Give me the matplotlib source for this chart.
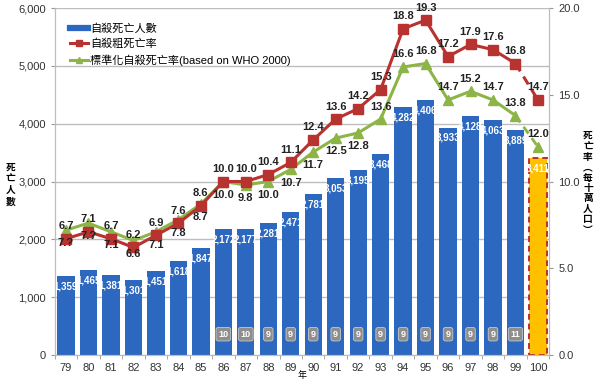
import matplotlib
matplotlib.use("Agg")
import matplotlib.pyplot as plt
from matplotlib.lines import Line2D
import numpy as np

plt.rcParams['font.family'] = ['Liberation Sans', 'Noto Sans CJK TC', 'DejaVu Sans']

# data
years = ['79', '80', '81', '82', '83', '84', '85', '86', '87', '88', '89',
         '90', '91', '92', '93', '94', '95', '96', '97', '98', '99', '100']
deaths = [1359, 1465, 1381, 1301, 1451, 1618, 1847, 2172, 2177, 2281, 2471,
          2781, 3053, 3195, 3468, 4282, 4406, 3933, 4128, 4063, 3889, 3411]
crude_rate = [6.7, 7.1, 6.7, 6.2, 6.9, 7.6, 8.6, 10.0, 10.0, 10.4, 11.1,
              12.4, 13.6, 14.2, 15.3, 18.8, 19.3, 17.2, 17.9, 17.6, 16.8, 14.7]
std_rate = [7.2, 7.6, 7.1, 6.6, 7.1, 7.8, 8.7, 10.0, 9.8, 10.0, 10.7,
            11.7, 12.5, 12.8, 13.6, 16.6, 16.8, 14.7, 15.2, 14.7, 13.8, 12.0]
std_labels = ['7.?', '7.?', '7.1', '6.6', '7.1', '7.8', '8.7', '10.0', '9.8', '10.0', '10.7',
              '11.7', '12.5', '12.8', '13.6', '16.6', '16.8', '14.7', '15.2', '14.7', '13.8', '12.0']
rank = [None, None, None, None, None, None, None, 10, 10, 9, 9,
        9, 9, 9, 9, 9, 9, 9, 9, 9, 11, None]

blue = '#2C68C0'
red = '#B8322F'
green = '#8CB447'
gold = '#FFC000'

x = np.arange(len(years))

fig = plt.figure(figsize=(6, 3.81), dpi=100)
ax = fig.add_axes([0.0913, 0.0682, 0.824, 0.9108])
ax2 = ax.twinx()

# bars
colors = [blue] * (len(years) - 1) + [gold]
bars = ax.bar(x, deaths, width=0.77, color=colors, zorder=2)
bars[-1].set_edgecolor(red)
bars[-1].set_linestyle((0, (3, 2)))
bars[-1].set_linewidth(1.4)

for xi, d in zip(x, deaths):
    ax.annotate(f"{d:,}", (xi, d), xytext=(0, -7.5), textcoords='offset points',
                ha='center', va='center', color='white', fontsize=7, fontweight='bold', zorder=3)

for xi, r in zip(x, rank):
    if r is not None:
        ax.text(xi, 360, str(r), ha='center', va='center', color='white', fontsize=6.5,
                fontweight='bold', zorder=3,
                bbox=dict(boxstyle='round,pad=0.25', fc='#8E8E8E', ec='#C8C8C8', lw=0.6))

ax.set_xlim(-0.5, len(years) - 0.5)
ax.set_ylim(0, 6000)
ax.set_yticks(range(0, 6001, 1000))
ax.set_yticklabels([f"{v:,}" for v in range(0, 6001, 1000)])
ax.yaxis.grid(True, color='#BDBDBD', linewidth=1.0, zorder=0)
ax.set_axisbelow(True)
ax.set_xticks(x)
ax.set_xticklabels(years)
ax.set_xticks(np.arange(-0.5, len(years), 1), minor=True)
ax.tick_params(axis='x', which='major', length=0, pad=6, labelsize=8, colors='#333333')
ax.tick_params(axis='x', which='minor', length=3, color='#999999')
ax.tick_params(axis='y', length=3, color='#999999', labelsize=8, labelcolor='#333333')

# rate lines on right axis
n = len(years) - 1
ax2.plot(x[:n], crude_rate[:n], color=red, lw=2.2, marker='s', ms=6.5, zorder=4)
ax2.plot(x[n - 1:], crude_rate[n - 1:], color=red, lw=2.2, ls=(0, (3, 2)), zorder=4)
ax2.plot(x[n:], crude_rate[n:], color=red, marker='s', ms=6.5, lw=0, zorder=4)
ax2.plot(x[:n], std_rate[:n], color=green, lw=2.2, marker='^', ms=6.5, zorder=3)
ax2.plot(x[n - 1:], std_rate[n - 1:], color=green, lw=2.0, ls=(0, (3, 2)), zorder=3)
ax2.plot(x[n:], std_rate[n:], color=green, marker='^', ms=6.5, lw=0, zorder=3)

for i, (xi, v) in enumerate(zip(x, crude_rate)):
    ax2.annotate(f"{v:.1f}", (xi, v), xytext=(0, 9), textcoords='offset points',
                 ha='center', va='center', fontsize=8, fontweight='bold', color='#222222', zorder=5)
for i, (xi, v) in enumerate(zip(x, std_rate)):
    dy = -9.5 if i < 14 else 9
    ax2.annotate(std_labels[i], (xi, v), xytext=(0, dy), textcoords='offset points',
                 ha='center', va='center', fontsize=8, fontweight='bold', color='#222222', zorder=5)

ax2.set_ylim(0, 20)
ax2.set_yticks([0, 5, 10, 15, 20])
ax2.set_yticklabels(['0.0', '5.0', '10.0', '15.0', '20.0'])
ax2.tick_params(axis='y', length=3, color='#999999', labelsize=8, labelcolor='#333333')

for a in (ax, ax2):
    for s in a.spines.values():
        s.set_color('#BDBDBD')
    a.spines['top'].set_visible(False)

# legend
handles = [Line2D([], [], color=blue, lw=4.5),
           Line2D([], [], color=red, lw=2.2, marker='s', ms=5),
           Line2D([], [], color=green, lw=2.2, marker='^', ms=5)]
labels = ['自殺死亡人數', '自殺粗死亡率', '標準化自殺死亡率(based on WHO 2000)']
ax2.legend(handles, labels, loc='upper left', bbox_to_anchor=(0.01, 0.985), frameon=False,
           fontsize=8, handlelength=1.6, handletextpad=0.2, labelspacing=0.45)

# axis titles, stacked vertically
fig.text(0.018, 0.515, '死\n亡\n人\n數', ha='center', va='center', fontsize=7,
         fontweight='bold', linespacing=1.15, family=['Noto Sans CJK TC'])
fig.text(0.98, 0.52, '死\n亡\n率\n︵\n每\n十\n萬\n人\n口\n︶', ha='center', va='center',
         fontsize=7, fontweight='bold', linespacing=1.05, family=['Noto Sans CJK TC'])
fig.text(0.503, 0.003, '年', ha='center', va='bottom', fontsize=6.5, family=['Noto Sans CJK TC'])

fig.savefig('out.png', dpi=100)
